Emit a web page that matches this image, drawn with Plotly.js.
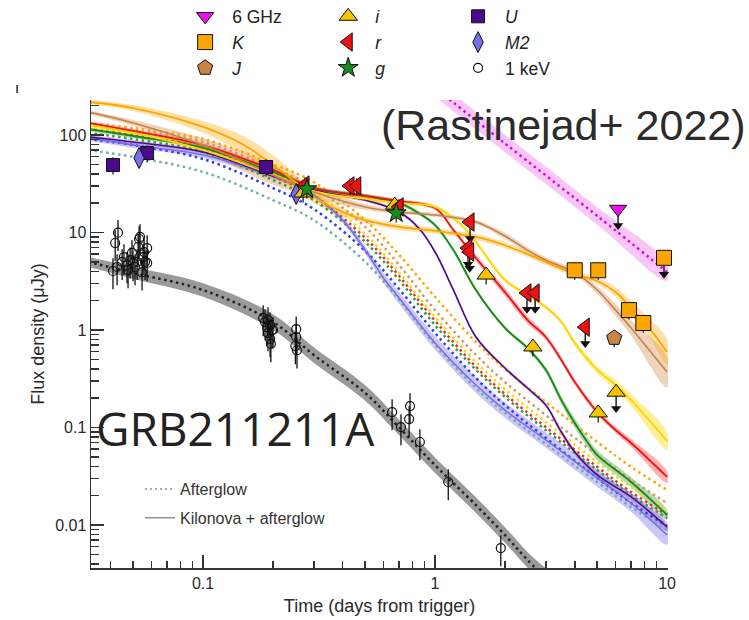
<!DOCTYPE html>
<html><head><meta charset="utf-8">
<script src="https://cdn.plot.ly/plotly-3.0.1.min.js"></script>
<style>html,body{margin:0;padding:0;background:#fff}#chart{width:749px;height:620px}</style>
</head><body><div id="chart"></div>
<script>
// ================= DATA =================
// Afterglow-only model curves (dotted), common time grid in days, flux in microJy
const agTimes = [0.032,0.05,0.1,0.2,0.3,0.5,0.7,1,1.5,2,3,5,7,10];
const agK  = [133,118,91,50.4,32.9,13.4,5.9,2.18,0.753,0.398,0.183,0.071,0.0394,0.0229];
const agJ  = [127,112,84.7,45.9,29.3,11.4,4.64,1.6,0.555,0.293,0.134,0.0522,0.029,0.0168];
const agI  = [121,105,78.9,41.8,26,9.66,3.9,1.36,0.47,0.248,0.114,0.0443,0.0245,0.0143];
const agR  = [115,100,73.6,38,23.7,8.8,3.58,1.24,0.42,0.221,0.101,0.0394,0.0218,0.0127];
const agG  = [105,91,66.9,34.5,21.5,8.0,3.26,1.12,0.39,0.206,0.094,0.0367,0.0203,0.0118];
const agU  = [91,78.9,56.7,28.6,17.4,6.46,2.63,0.932,0.322,0.17,0.078,0.0303,0.0168,0.0098];
const agM2 = [70.2,59.5,41.8,21.5,13.4,5.0,2.03,0.70,0.254,0.141,0.0677,0.0276,0.0153,0.0089];

// Kilonova + afterglow model curves (solid) with band half-widths (dex)
const knK_t = [0.032,0.05,0.1,0.15,0.2,0.25,0.3,0.4,0.5,0.7,1,1.5,2,3,4,5,6,7,8.5,10];
const knK_f = [218,189,121,78.9,49.2,32.9,23.1,16.2,13.4,11.4,10.4,9.0,7.4,5.0,3.75,3.18,2.45,1.68,1.0,0.595];
const knK_w = [0.02,0.03,0.06,0.09,0.1,0.08,0.06,0.04,0.03,0.03,0.03,0.03,0.03,0.03,0.03,0.03,0.05,0.07,0.1,0.13];

const knJ_t = [0.032,0.05,0.1,0.15,0.2,0.3,0.5,0.7,1,1.5,2,2.5,3,4,5,6,7,10];
const knJ_f = [172,133,78.9,52.9,38.9,26,18.3,16.2,15.1,12.8,9.2,6.6,5.2,3.9,2.57,1.6,1.05,0.37];
const knJ_w = [0.02,0.03,0.07,0.1,0.1,0.06,0.03,0.02,0.02,0.02,0.03,0.03,0.03,0.03,0.04,0.06,0.08,0.16];

const knI_t = [0.032,0.05,0.1,0.2,0.3,0.5,0.7,1,1.3,1.5,2,2.5,3,3.5,4,5,6,7,10];
const knI_f = [127,105,70.2,38.9,26.6,22.1,20.1,18.3,11.9,8.0,3.26,2.29,1.72,1.21,0.735,0.39,0.273,0.191,0.0727];
const knI_w = [0.02,0.02,0.02,0.02,0.02,0.02,0.02,0.02,0.02,0.02,0.02,0.02,0.02,0.02,0.03,0.04,0.05,0.06,0.09];

const knR_t = [0.032,0.05,0.1,0.2,0.3,0.5,0.7,1,1.2,1.5,2,2.5,3,3.5,4,5,6,7,10];
const knR_f = [133,110,78.9,43.8,28.6,23.7,21,17.8,10.6,5.48,2.45,1.27,0.848,0.493,0.293,0.144,0.0942,0.0693,0.0311];
const knR_w = [0.02,0.02,0.02,0.02,0.02,0.02,0.02,0.02,0.02,0.03,0.04,0.04,0.03,0.03,0.03,0.03,0.03,0.04,0.06];

const knG_t = [0.032,0.05,0.1,0.2,0.3,0.5,0.7,0.85,1,1.2,1.5,2,2.5,3,3.5,4,4.5,5,7,10];
const knG_f = [115,97.7,73.6,41.8,28.6,23.7,20.1,15.8,11.9,6.6,2.57,1.05,0.654,0.39,0.191,0.111,0.0727,0.0522,0.0276,0.0127];
const knG_w = [0.02,0.02,0.02,0.02,0.02,0.02,0.02,0.02,0.02,0.02,0.02,0.02,0.02,0.03,0.04,0.05,0.05,0.05,0.05,0.05];

const knU_t = [0.032,0.05,0.1,0.2,0.3,0.5,0.7,0.85,1,1.2,1.5,2,2.5,3,3.5,4,5,7,10];
const knU_f = [95.4,84.7,66.9,38,27.3,21.5,16.2,11.1,6.31,2.57,0.848,0.408,0.254,0.170,0.0899,0.0561,0.0326,0.0194,0.00953];
const knU_w = [0.02,0.02,0.02,0.02,0.02,0.02,0.02,0.02,0.02,0.02,0.02,0.02,0.02,0.02,0.03,0.03,0.03,0.04,0.04];

const knM2_t = [0.032,0.05,0.1,0.2,0.25,0.3,0.4,0.5,0.6,0.7,1,1.5,2,3,5,7,10];
const knM2_f = [93.2,78.9,62.4,38,31.4,24.2,13.4,6.6,3.4,2.13,0.735,0.273,0.151,0.0745,0.0303,0.0168,0.0079];
const knM2_w = [0.03,0.03,0.03,0.03,0.03,0.03,0.03,0.04,0.05,0.06,0.07,0.08,0.08,0.08,0.09,0.09,0.1];

// X-ray (1 keV) afterglow model
const xmod_t = [0.032,0.05,0.1,0.2,0.3,0.5,0.7,1,1.5,2,2.5,3.5];
const xmod_f = [5.0,3.85,2.57,1.21,0.555,0.226,0.1,0.041,0.016,0.0079,0.0044,0.002];
const xmod_w = [0.05,0.06,0.07,0.08,0.08,0.08,0.08,0.08,0.08,0.08,0.08,0.08];

// Radio (6 GHz) afterglow model
const rmod_t = [1,2,5,10];
const rmod_f = [303,82,14.8,3.94];
const rmod_w = [0.09,0.09,0.09,0.09];

// Observations
const ghz6Lim_t = [6.15];           const ghz6Lim_f = [17.4];
const K_t = [4.0,5.05,6.85,7.9];    const K_f = [4.1,4.1,1.6,1.18];
const KLim_t = [9.7];               const KLim_f = [5.5];
const J_t = [5.92];                 const J_f = [0.83];
const i_t = [0.27,0.67,1.66,2.64,5.05]; const i_f = [25.4,19.1,3.66,0.67,0.141];
const iLim_t = [6.03];              const iLim_f = [0.23];
const r_t = [0.275,0.43,0.46,0.70]; const r_f = [30.7,30,30,18.3];
const rLim_t = [1.415,1.387,1.41,2.49,2.70,4.44]; const rLim_f = [12.8,6.93,6.31,2.4,2.4,1.07];
const g_t = [0.28,0.68];            const g_f = [27.9,15.8];
const U_t = [0.0409,0.0574,0.187];  const U_f = [49.2,65.3,47];
const M2_t = [0.053,0.252];         const M2_f = [58,24.8];
const xray_t = [0.0409,0.0418,0.0426,0.0430,0.0448,0.0456,0.0470,0.0475,0.0485,0.0494,0.0499,0.0509,0.0520,0.0525,0.0530,0.0535,0.0546,0.0551,0.0557,0.0562,0.0574,0.0574,
                0.1816,0.185,0.1888,0.1905,0.1945,0.1983,0.1905,0.1945,0.2003,0.196,
                0.252,0.252,0.250,0.254,
                0.653,0.713,0.78,0.773,0.86,1.14,1.92];
const xray_f = [4.03,7.8,4.43,9.95,5.0,5.6,4.64,4.12,5.2,6.17,4.87,4.43,5.0,7.1,8.58,9.0,3.9,5.6,6.3,5.0,4.87,6.93,
                1.33,1.21,1.07,1.27,1.12,1.0,0.93,0.81,1.0,0.72,
                1.02,0.848,0.685,0.62,
                0.144,0.101,0.166,0.122,0.071,0.0276,0.0058];

// Axis ticks
const xTickVals = [0.1,1,10];        const xTickText = ['0.1','1','10'];
const yTickVals = [0.01,0.1,1,10,100]; const yTickText = ['0.01','0.1','1','10','100'];

// ================= STYLE =================
const C = {
  K:'#ffa500', J:'#c4844c', i:'#ffd400', r:'#f01414', g:'#168a16', U:'#4b0a8c', M2:'#7a6ee8'
};
const BAND = {
  K:'rgba(255,165,0,0.35)', J:'rgba(205,133,63,0.35)', i:'rgba(255,215,0,0.4)', r:'rgba(255,0,0,0.3)',
  g:'rgba(0,128,0,0.3)', U:'rgba(75,0,130,0.2)', M2:'rgba(123,104,238,0.38)'
};
const DOT = {K:'#ffa500', J:'#cf9a66', i:'#ffd700', r:'#e83030', g:'#3a9a3a', U:'#2a3cff', M2:'#6fb0a8'};

function minorVals(lo, hi){ const v=[]; for(let e=lo;e<=hi;e++){ for(let m=2;m<=9;m++) v.push(m*Math.pow(10,e)); } return v; }

function bandTrace(t,f,w,color){
  const up=f.map((v,k)=>v*Math.pow(10,w[k])), lo=f.map((v,k)=>v/Math.pow(10,w[k]));
  return {x:t.concat(t.slice().reverse()), y:up.concat(lo.slice().reverse()), type:'scatter', mode:'lines',
    fill:'toself', fillcolor:color, line:{width:0, shape:'spline'}, showlegend:false, hoverinfo:'skip'};
}
function lineTrace(t,f,color,width,dash){
  return {x:t, y:f, type:'scatter', mode:'lines', line:{color:color, width:width, dash:dash||'solid', shape:'spline'},
    showlegend:false, hoverinfo:'skip'};
}
const errSmall = {type:'percent', value:20, color:'#111', thickness:1.2, width:0};
function detTrace(t,f,name,symbol,size,color,legend,rank,show){
  return {x:t, y:f, type:'scatter', mode:'markers', name:name, legend:legend, legendrank:rank, showlegend:show, cliponaxis:false,
    marker:{symbol:symbol, size:size, color:color, line:{color:'#111', width:1}}, error_y:errSmall};
}
function limTraces(t,f,name,symbol,size,color,legend,rank,show){
  const tip=f.map(v=>v*0.68);
  return [
    {x:t, y:tip, type:'scatter', mode:'markers', showlegend:false, hoverinfo:'skip', cliponaxis:false,
     marker:{symbol:'triangle-down', size:9, color:'#111'}},
    {x:t, y:f, type:'scatter', mode:'markers', name:name, legend:legend, legendrank:rank, showlegend:show, cliponaxis:false,
     marker:{symbol:symbol, size:size, color:color, line:{color:'#111', width:1}},
     error_y:{type:'data', symmetric:false, array:f.map(()=>0), arrayminus:f.map((v,k)=>v-tip[k]), color:'#111', thickness:1.4, width:0}}
  ];
}

const traces = [];
// bands
traces.push(bandTrace(rmod_t,rmod_f,rmod_w,'rgba(240,130,240,0.45)'));
traces.push(bandTrace(xmod_t,xmod_f,xmod_w,'rgba(120,120,120,0.75)'));
traces.push(bandTrace(knM2_t,knM2_f,knM2_w,BAND.M2));
traces.push(bandTrace(knU_t,knU_f,knU_w,BAND.U));
traces.push(bandTrace(knG_t,knG_f,knG_w,BAND.g));
traces.push(bandTrace(knR_t,knR_f,knR_w,BAND.r));
traces.push(bandTrace(knI_t,knI_f,knI_w,BAND.i));
traces.push(bandTrace(knJ_t,knJ_f,knJ_w,BAND.J));
traces.push(bandTrace(knK_t,knK_f,knK_w,BAND.K));
// afterglow dotted
const dd = '2.5px,3.5px';
traces.push(lineTrace(rmod_t,rmod_f,'#e600e6',2.5,dd));
traces.push(lineTrace(xmod_t,xmod_f,'#222',2.5,dd));
traces.push(lineTrace(agTimes,agM2,DOT.M2,2.5,dd));
traces.push(lineTrace(agTimes,agU,DOT.U,2.5,dd));
traces.push(lineTrace(agTimes,agG,DOT.g,2.5,dd));
traces.push(lineTrace(agTimes,agR,DOT.r,2.5,dd));
traces.push(lineTrace(agTimes,agI,DOT.i,2.5,dd));
traces.push(lineTrace(agTimes,agJ,DOT.J,2.5,dd));
traces.push(lineTrace(agTimes,agK,DOT.K,2.5,dd));
// kilonova + afterglow solid
traces.push(lineTrace(knM2_t,knM2_f,C.M2,1.6));
traces.push(lineTrace(knU_t,knU_f,C.U,1.6));
traces.push(lineTrace(knG_t,knG_f,C.g,1.8));
traces.push(lineTrace(knR_t,knR_f,C.r,1.8));
traces.push(lineTrace(knI_t,knI_f,C.i,1.8));
traces.push(lineTrace(knJ_t,knJ_f,C.J,1.6));
traces.push(lineTrace(knK_t,knK_f,C.K,1.8));
// observations
traces.push({x:xray_t, y:xray_f, type:'scatter', mode:'markers', name:'1 keV', legend:'legend4', legendrank:3,
  marker:{symbol:'circle-open', size:9, color:'#111', line:{width:1.2}},
  error_y:{type:'percent', value:35, color:'#111', thickness:1.3, width:0}});
traces.push(detTrace(U_t,U_f,'<i>U</i>','square',13,'#4b0a8c','legend4',1,true));
traces.push(detTrace(M2_t,M2_f,'<i>M2</i>','diamond-tall',15,'#7b6fe6','legend4',2,true));
traces.push(...limTraces(ghz6Lim_t,ghz6Lim_f,'6 GHz','triangle-down',15,'#ee10ee','legend',1,true));
traces.push(detTrace(K_t,K_f,'<i>K</i>','square',15,'#ffa500','legend',2,true));
traces.push(...limTraces(KLim_t,KLim_f,'K lim','square',15,'#ffa500','legend',9,false));
traces.push(detTrace(J_t,J_f,'<i>J</i>','pentagon',16,'#c98545','legend',3,true));
traces.push(detTrace(i_t,i_f,'<i>i</i>','triangle-up',16,'#f5c400','legend3',1,true));
traces.push(...limTraces(iLim_t,iLim_f,'i lim','triangle-up',16,'#f5c400','legend3',9,false));
traces.push(...limTraces(rLim_t,rLim_f,'r lim','triangle-left',16,'#ee1111','legend3',9,false));
traces.push(detTrace(r_t,r_f,'<i>r</i>','triangle-left',16,'#ee1111','legend3',2,true));
traces.push(detTrace(g_t,g_f,'<i>g</i>','star',15,'#1a8a1a','legend3',3,true));
// lower-left key
traces.push({x:[null], y:[null], type:'scatter', mode:'lines', name:'Afterglow', legend:'legend2', legendrank:1, legendgroup:'a',
  line:{color:'#8a8a8a', width:1.6, dash:'2px,3px'}});
traces.push({x:[null], y:[null], type:'scatter', mode:'lines', name:'Kilonova + afterglow', legend:'legend2', legendrank:2, legendgroup:'b',
  line:{color:'#8a8a8a', width:1.4}});

const axisCommon = {type:'log', showgrid:false, zeroline:false, showline:true, linecolor:'#333', linewidth:1.5,
  ticks:'inside', ticklen:13, tickwidth:1.5, tickcolor:'#333', tickfont:{size:16, color:'#2a2a2a'}, mirror:false, automargin:false};
const legCommon = {xanchor:'left', yanchor:'top', bgcolor:'rgba(0,0,0,0)', borderwidth:0, orientation:'v',
  font:{size:17.5, color:'#222'}, tracegroupgap:0, itemwidth:44};

const layout = {
  width:749, height:620,
  margin:{l:91, r:81, t:100, b:52, autoexpand:false},
  paper_bgcolor:'#ffffff', plot_bgcolor:'#ffffff',
  font:{family:'Liberation Sans, Arial, sans-serif', color:'#2a2a2a'},
  xaxis:Object.assign({}, axisCommon, {range:[-1.483,1.004], tickvals:xTickVals, ticktext:xTickText,
    minor:{tickvals:minorVals(-2,0), ticks:'inside', ticklen:7, tickwidth:1.5, tickcolor:'#333', showgrid:false},
    title:{text:'Time (days from trigger)', font:{size:18}, standoff:8}}),
  yaxis:Object.assign({}, axisCommon, {range:[-2.441,2.359], tickvals:yTickVals, ticktext:yTickText,
    minor:{tickvals:minorVals(-3,2), ticks:'inside', ticklen:8, tickwidth:1.5, tickcolor:'#333', showgrid:false},
    title:{text:'Flux density (μJy)', font:{size:18}, standoff:6}}),
  showlegend:true,
  legend:Object.assign({}, legCommon, {x:0.151, y:1.217}),
  legend3:Object.assign({}, legCommon, {x:0.399, y:1.217}),
  legend4:Object.assign({}, legCommon, {x:0.624, y:1.217}),
  legend2:Object.assign({}, legCommon, {x:0.085, y:0.205, font:{size:16, color:'#333'}, tracegroupgap:5, itemwidth:30}),
  annotations:[
    {text:'(Rastinejad+ 2022)', xref:'paper', yref:'paper', x:0.499, y:0.947, xanchor:'left', yanchor:'middle',
     showarrow:false, font:{size:43, color:'#2b2b2b', family:'Liberation Sans, Arial, sans-serif'}},
    {text:'GRB211211A', xref:'paper', yref:'paper', x:0.005, y:0.299, xanchor:'left', yanchor:'middle',
     showarrow:false, font:{size:46, color:'#222', family:'Open Sans, Noto Sans, sans-serif'}}
  ],
  shapes:[
    {type:'line', xref:'paper', yref:'paper', x0:-0.128, x1:-0.128, y0:1.015, y1:1.032, line:{color:'#222', width:1.5}}
  ]
};

Plotly.newPlot('chart', traces, layout, {displayModeBar:false, staticPlot:true});
</script>
</body></html>
